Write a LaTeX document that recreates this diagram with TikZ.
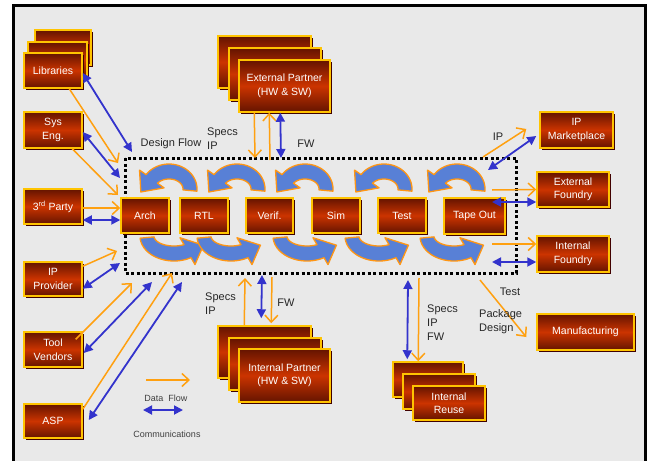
\documentclass[tikz,border=0pt]{standalone}
\usepackage{fontspec}
\setmainfont{Liberation Sans}
\usetikzlibrary{arrows.meta,calc,shadows}
\definecolor{bggray}{RGB}{233,233,233}
\definecolor{boxgold}{RGB}{255,196,0}
\definecolor{boxdark}{RGB}{100,20,0}
\definecolor{boxred}{RGB}{204,52,0}
\definecolor{dfor}{RGB}{255,160,16}
\definecolor{comblue}{RGB}{51,51,204}
\definecolor{ribblue}{RGB}{88,128,214}
\definecolor{riborange}{RGB}{255,150,20}
\tikzset{
 redbox/.style={draw=boxgold, line width=1.5pt, top color=boxdark, bottom color=boxdark, middle color=boxred,
   text=white, font=\fontsize{10.5}{13.5}\selectfont, align=center, inner sep=0pt,
   drop shadow={shadow xshift=1.6pt, shadow yshift=-1.6pt, fill=black!75!red, opacity=1}},
 flowarrow/.style={draw=dfor, line width=1.5pt, -{Straight Barb[length=7pt,width=13pt]}},
 commarrow/.style={draw=comblue, line width=1.8pt, {Triangle[length=9pt,width=9pt]}-{Triangle[length=9pt,width=9pt]}},
 ribbon/.style={fill=ribblue, draw=riborange, line width=1.3pt, line join=round},
 lbl/.style={font=\fontsize{11}{14}\selectfont, text=black!85, inner sep=0pt},
 leglbl/.style={font=\fontsize{9}{11}\selectfont, text=black!75, inner sep=0pt},
 dotbox/.style={draw=black, line width=3pt, dash pattern=on 3pt off 2.5pt},
 frame/.style={draw=black, line width=3pt, fill=bggray},
}
\newcommand{\rbox}[6]{\node[redbox, minimum width={(#4-#2)*1pt}, minimum height={(#5-#3)*1pt}] (#1) at ({(#2+#4)/2},{(#3+#5)/2}) {#6};}
\newcommand{\ribarrow}[5]{%
 \pgfmathsetmacro{\myrxo}{#5}%
 \pgfmathsetmacro{\myrxi}{#5-14}%
 \pgfmathsetmacro{\myrxm}{#5-7}%
 \pgfmathsetmacro{\mytdx}{\myrxm*sin(#4)}%
 \pgfmathsetmacro{\mytdy}{-17.5*cos(#4)}%
 \pgfmathsetmacro{\mytdn}{sqrt(\mytdx*\mytdx+\mytdy*\mytdy)}%
 \pgfmathsetmacro{\mytipx}{#1+\myrxm*cos(#4)+17*\mytdx/\mytdn}%
 \pgfmathsetmacro{\mytipy}{#2+17.5*sin(#4)+17*\mytdy/\mytdn}%
 \filldraw[ribbon] plot[domain=#3:#4,samples=30] ({#1+\myrxo*cos(\x)},{#2+25*sin(\x)})
  -- ({#1+(\myrxo+8)*cos(#4)},{#2+33*sin(#4)})
  -- (\mytipx,\mytipy)
  -- ({#1+(\myrxi-8)*cos(#4)},{#2+2*sin(#4)})
  -- plot[domain=#4:#3,samples=30] ({#1+\myrxi*cos(\x)},{#2+10*sin(\x)})
  -- cycle;}
\begin{document}
\begin{tikzpicture}[x=1pt,y=-1pt]
\useasboundingbox (0,0) rectangle (647,460);
\clip (0,0) rectangle (647,460);
\draw[frame] (13,6) rectangle (645,480);

% design flow box
\draw[dotbox] (125,158) rectangle (516,273);

% ribbon arrows (iteration)
\foreach \c in {169,237,305,384,457} {\ribarrow{\c}{189}{5}{-145}{28}}
\foreach \c in {174,231,307,379,454} {\ribarrow{\c}{236}{175}{60}{34}}

% left column
\rbox{lib3}{35}{30}{91}{65}{}
\rbox{lib2}{28}{42}{87}{77}{}
\rbox{lib}{24}{53}{82}{88}{Libraries}
\rbox{sys}{24}{112}{82}{148}{Sys\\Eng.}
\rbox{third}{24}{189}{82}{224}{3\textsuperscript{rd} Party}
\rbox{ipp}{24}{262}{82}{296}{IP\\Provider}
\rbox{tool}{24}{332}{82}{367}{Tool\\Vendors}
\rbox{asp}{24}{404}{82}{438}{ASP}

% partners
\rbox{extB}{218}{36}{311}{88}{}
\rbox{extM}{229}{48}{321}{100}{}
\rbox{ext}{239}{60}{330}{112}{External Partner\\(HW \& SW)}
\rbox{intB}{218}{326}{311}{378}{}
\rbox{intM}{229}{338}{321}{390}{}
\rbox{int}{239}{349}{330}{402}{Internal Partner\\(HW \& SW)}

% flow steps
\rbox{arch}{121}{198}{169}{233}{Arch}
\rbox{rtl}{180}{198}{228}{233}{RTL}
\rbox{verif}{246}{198}{293}{233}{Verif.}
\rbox{sim}{312}{198}{360}{233}{Sim}
\rbox{test}{378}{198}{426}{233}{Test}
\rbox{tape}{444}{198}{505}{234}{Tape Out}

% right column
\rbox{ipm}{540}{112}{613}{148}{IP\\Marketplace}
\rbox{extf}{537}{172}{609}{207}{External\\Foundry}
\rbox{intf}{537}{236}{609}{272}{Internal\\Foundry}
\rbox{man}{537}{314}{634}{350}{Manufacturing}
\rbox{reuseB}{393}{362}{463}{397}{}
\rbox{reuseM}{403}{374}{475}{409}{}
\rbox{reuse}{413}{386}{485}{420}{Internal\\Reuse}

% free ends
\coordinate (lo1) at (118,163);
\coordinate (lb1) at (132,152);
\coordinate (lo2) at (118,195);
\coordinate (lb2) at (120,178);
\coordinate (lo3) at (117,251);
\coordinate (lb3) at (120,263);
\coordinate (lo4) at (132,283);
\coordinate (lb4) at (152,282);
\coordinate (lo5) at (172,273);
\coordinate (lb5) at (182,282);
\coordinate (e1) at (255,158);
\coordinate (e2) at (270,160);
\coordinate (e3) at (281,158);
\coordinate (i1) at (245,278);
\coordinate (i2) at (262,275);
\coordinate (i3) at (272,277);
\coordinate (po1) at (483,157);
\coordinate (pb1) at (488,170);
\coordinate (po2) at (492,190);
\coordinate (pb2) at (492,202);
\coordinate (po3) at (492,244);
\coordinate (pb3) at (492,262);
\coordinate (po4) at (480,280);
\coordinate (pb4) at (408,280);
\coordinate (po5) at (419,278);
\coordinate (legA) at (146,380);
\coordinate (legB) at (190,380);
\coordinate (legC) at (143,410);
\coordinate (legD) at (183,410);

% left connectors
\draw[flowarrow] ($(lib.south west)+(46,0)$) -- (lo1);
\draw[commarrow] ($(lib.east)+(0,2.5)$) -- (lb1);
\draw[flowarrow] ($(sys.south west)+(49,0)$) -- (lo2);
\draw[commarrow] ($(sys.east)+(0,2)$) -- (lb2);
\draw[flowarrow] ($(third.east)+(0,1.5)$) -- ($(arch.west)+(0,-7.5)$);
\draw[commarrow] ($(third.east)+(0,13.5)$) -- ($(arch.west)+(0,4.5)$);
\draw[flowarrow] ($(ipp.north east)+(0,5)$) -- (lo3);
\draw[commarrow] ($(ipp.south east)+(0,-8)$) -- (lb3);
\draw[flowarrow] ($(tool.north east)+(-7,8)$) -- (lo4);
\draw[commarrow] ($(tool.east)+(1,3.5)$) -- (lb4);
\draw[flowarrow] ($(asp.north east)+(0,6)$) -- (lo5);
\draw[commarrow] ($(asp.east)+(6,-1)$) -- (lb5);

% top / bottom partner connectors
\draw[flowarrow] ($(ext.south west)+(16,0)$) -- (e1);
\draw[flowarrow] (e2) -- ($(ext.south west)+(31,0)$);
\draw[commarrow] ($(ext.south west)+(42,0)$) -- (e3);
\draw[flowarrow] ($(intB.north west)+(27,0)$) -- (i1);
\draw[commarrow] (i2) -- ($(intB.north west)+(44,-7)$);
\draw[flowarrow] (i3) -- ($(intB.north west)+(54,-2)$);

% right connectors
\draw[flowarrow] (po1) -- ($(ipm.west)+(-13,-1)$);
\draw[commarrow] (pb1) -- ($(ipm.west)+(-3,6)$);
\draw[flowarrow] (po2) -- (extf.west);
\draw[commarrow] (pb2) -- ($(extf.west)+(0,12.5)$);
\draw[flowarrow] (po3) -- ($(intf.west)+(0,-10)$);
\draw[commarrow] (pb3) -- ($(intf.west)+(0,8)$);
\draw[flowarrow] (po4) -- ($(man.west)+(-10,5)$);
\draw[commarrow] (pb4) -- ($(reuseB.north west)+(15,-2)$);
\draw[flowarrow] (po5) -- ($(reuseB.north west)+(26,0)$);

% legend
\draw[flowarrow] (legA) -- (legB);
\draw[commarrow] (legC) -- (legD);
\node[leglbl] (legdf) at (166,398) {Data\ \ Flow};
\node[leglbl] (legcm) at (167,434) {Communications};

% labels
\node[lbl] (dflow) at (171,144) {Design Flow};
\node[lbl, align=left, anchor=west] (specs1) at (207,139) {Specs\\IP};
\node[lbl] (fw1) at (306,144) {FW};
\node[lbl] (iplbl) at (498,137) {IP};
\node[lbl, align=left, anchor=west] (specs2) at (205,304) {Specs\\IP};
\node[lbl] (fw2) at (286,303) {FW};
\node[lbl] (testlbl) at (510,292) {Test};
\node[lbl, align=left, anchor=west] (pkg) at (479,322) {Package\\Design};
\node[lbl, align=left, anchor=west] (specs3) at (427,323) {Specs\\IP\\FW};
\end{tikzpicture}
\end{document}
